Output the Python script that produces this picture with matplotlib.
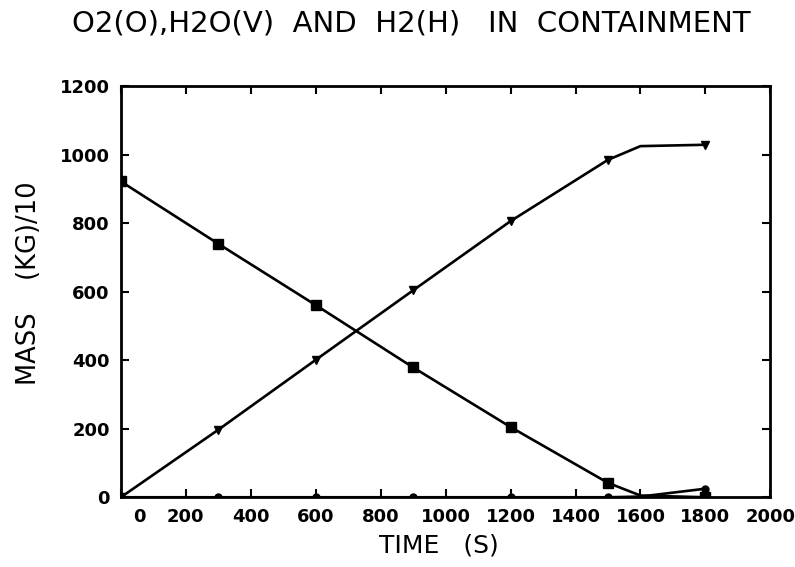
import numpy as np
import matplotlib.pyplot as plt
import matplotlib.transforms as mtransforms

# time points (s) and masses (kg/10)
time = [0, 300, 600, 900, 1200, 1500, 1600, 1800]
o2 = [922, 740, 561, 379, 205, 42, 5, 0]
h2o = [0, 197, 401, 604, 806, 985, 1025, 1029]
h2 = [0, 0, 0, 0, 0, 0, 2, 25]
mark_every = [0, 1, 2, 3, 4, 5, 7]

xticks = [0, 200, 400, 600, 800, 1000, 1200, 1400, 1600, 1800, 2000]
yticks = [0, 200, 400, 600, 800, 1000, 1200]

fig = plt.figure(figsize=(7.95, 5.67), dpi=100)
ax = fig.add_axes([0.152, 0.123, 0.817, 0.725])

ax.plot(time, o2, color="black", lw=1.9, marker="s", ms=7, markevery=mark_every)
ax.plot(time, h2o, color="black", lw=1.9, marker="v", ms=6, markevery=mark_every)
ax.plot(time, h2, color="black", lw=1.9, marker="o", ms=5, markevery=mark_every)

ax.set_xlim(0, 2000)
ax.set_ylim(0, 1200)
ax.set_xticks(xticks)
ax.set_yticks(yticks)
ax.tick_params(direction="in", top=True, right=True, length=6, width=1.5,
               labelsize=13, pad=8)
for lab in ax.get_xticklabels() + ax.get_yticklabels():
    lab.set_fontweight("bold")
# the "0" on the time axis sits a bit right of its tick in the original
x0 = ax.get_xticklabels()[0]
x0.set_transform(x0.get_transform() + mtransforms.ScaledTranslation(0.19, 0, fig.dpi_scale_trans))
for sp in ax.spines.values():
    sp.set_linewidth(2)

ax.set_xlabel("TIME   (S)", fontsize=18)
ax.xaxis.set_label_coords(0.49, -0.088)
ax.set_ylabel("MASS    (KG)/10", fontsize=18.5)
ax.yaxis.set_label_coords(-0.122, 0.52)
fig.text(0.517, 0.958, "O2(O),H2O(V)  AND  H2(H)   IN  CONTAINMENT", ha="center",
         va="center", fontsize=21)

fig.savefig("out.png", dpi=100)
